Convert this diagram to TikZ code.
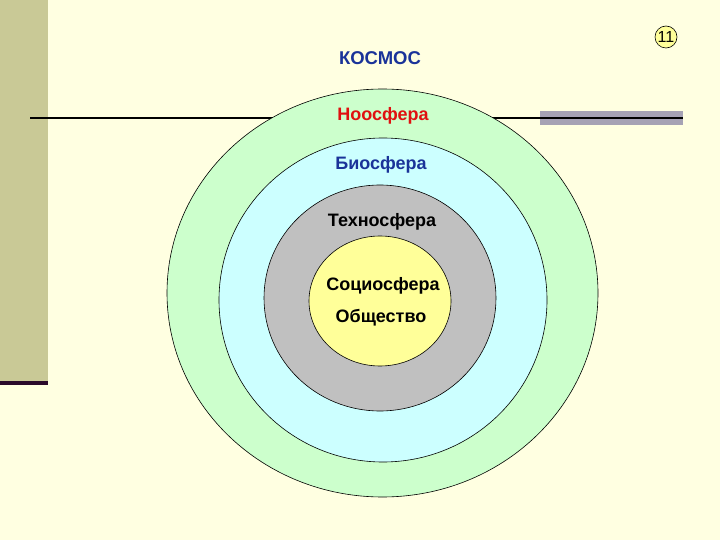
\documentclass[tikz,border=0pt]{standalone}
\usepackage{fontspec}
\usetikzlibrary{shapes.geometric}
\setmainfont{Liberation Sans}
\definecolor{bgc}{HTML}{FFFFE1}
\definecolor{stripc}{HTML}{C9C996}
\definecolor{darkp}{HTML}{2A0A2A}
\definecolor{barc}{HTML}{A6A2B4}
\definecolor{greenc}{HTML}{CCFFCC}
\definecolor{cyanc}{HTML}{CCFFFF}
\definecolor{greyc}{HTML}{C0C0C0}
\definecolor{yellc}{HTML}{FFFF99}
\definecolor{kosmosc}{HTML}{1A3399}
\definecolor{redc}{HTML}{E01010}
\definecolor{bluec}{HTML}{1A3399}
\tikzset{
  ring/.style={ellipse, draw=black, line width=0.6pt, inner sep=0pt},
  lbl/.style={font=\bfseries\fontsize{18}{20}\selectfont, inner sep=1pt}
}
\begin{document}
\begin{tikzpicture}[x=1pt,y=-1pt]
\useasboundingbox (0,0) rectangle (720,540);
\fill[bgc] (0,0) rectangle (720,540);
\fill[stripc] (0,0) rectangle (48,382);
\fill[darkp] (0,381) rectangle (48,385);
\fill[barc] (540,111) rectangle (683,125);
\coordinate (lA) at (30,118);
\coordinate (lB) at (683,118);
\draw[line width=1.4pt, black] (lA) -- (lB);
\node[ring, fill=greenc, minimum width=431pt, minimum height=408pt] (noo) at (382.5,293) {};
\node[ring, fill=cyanc, minimum width=328pt, minimum height=324pt] (bio) at (383,300) {};
\node[ring, fill=greyc, minimum width=232pt, minimum height=226pt] (tech) at (380,298) {};
\node[ring, fill=yellc, minimum width=142pt, minimum height=130pt] (soc) at (380,301) {};
\node[lbl, text=kosmosc, font=\bfseries\fontsize{18.5}{20}\selectfont] (tK) at (380,58) {КОСМОС};
\node[lbl, text=redc] (tN) at (383,116) {Ноосфера};
\node[lbl, text=bluec] (tB) at (381,165) {Биосфера};
\node[lbl, text=black] (tT) at (382,222) {Техносфера};
\node[lbl, text=black] (tS) at (383,286) {Социосфера};
\node[lbl, text=black] (tO) at (381,318) {Общество};
\node[circle, draw=black, fill=yellc, line width=0.6pt, minimum size=22pt, inner sep=0pt, font=\fontsize{16}{17}\selectfont] (pg) at (666,37) {11};
\end{tikzpicture}
\end{document}
